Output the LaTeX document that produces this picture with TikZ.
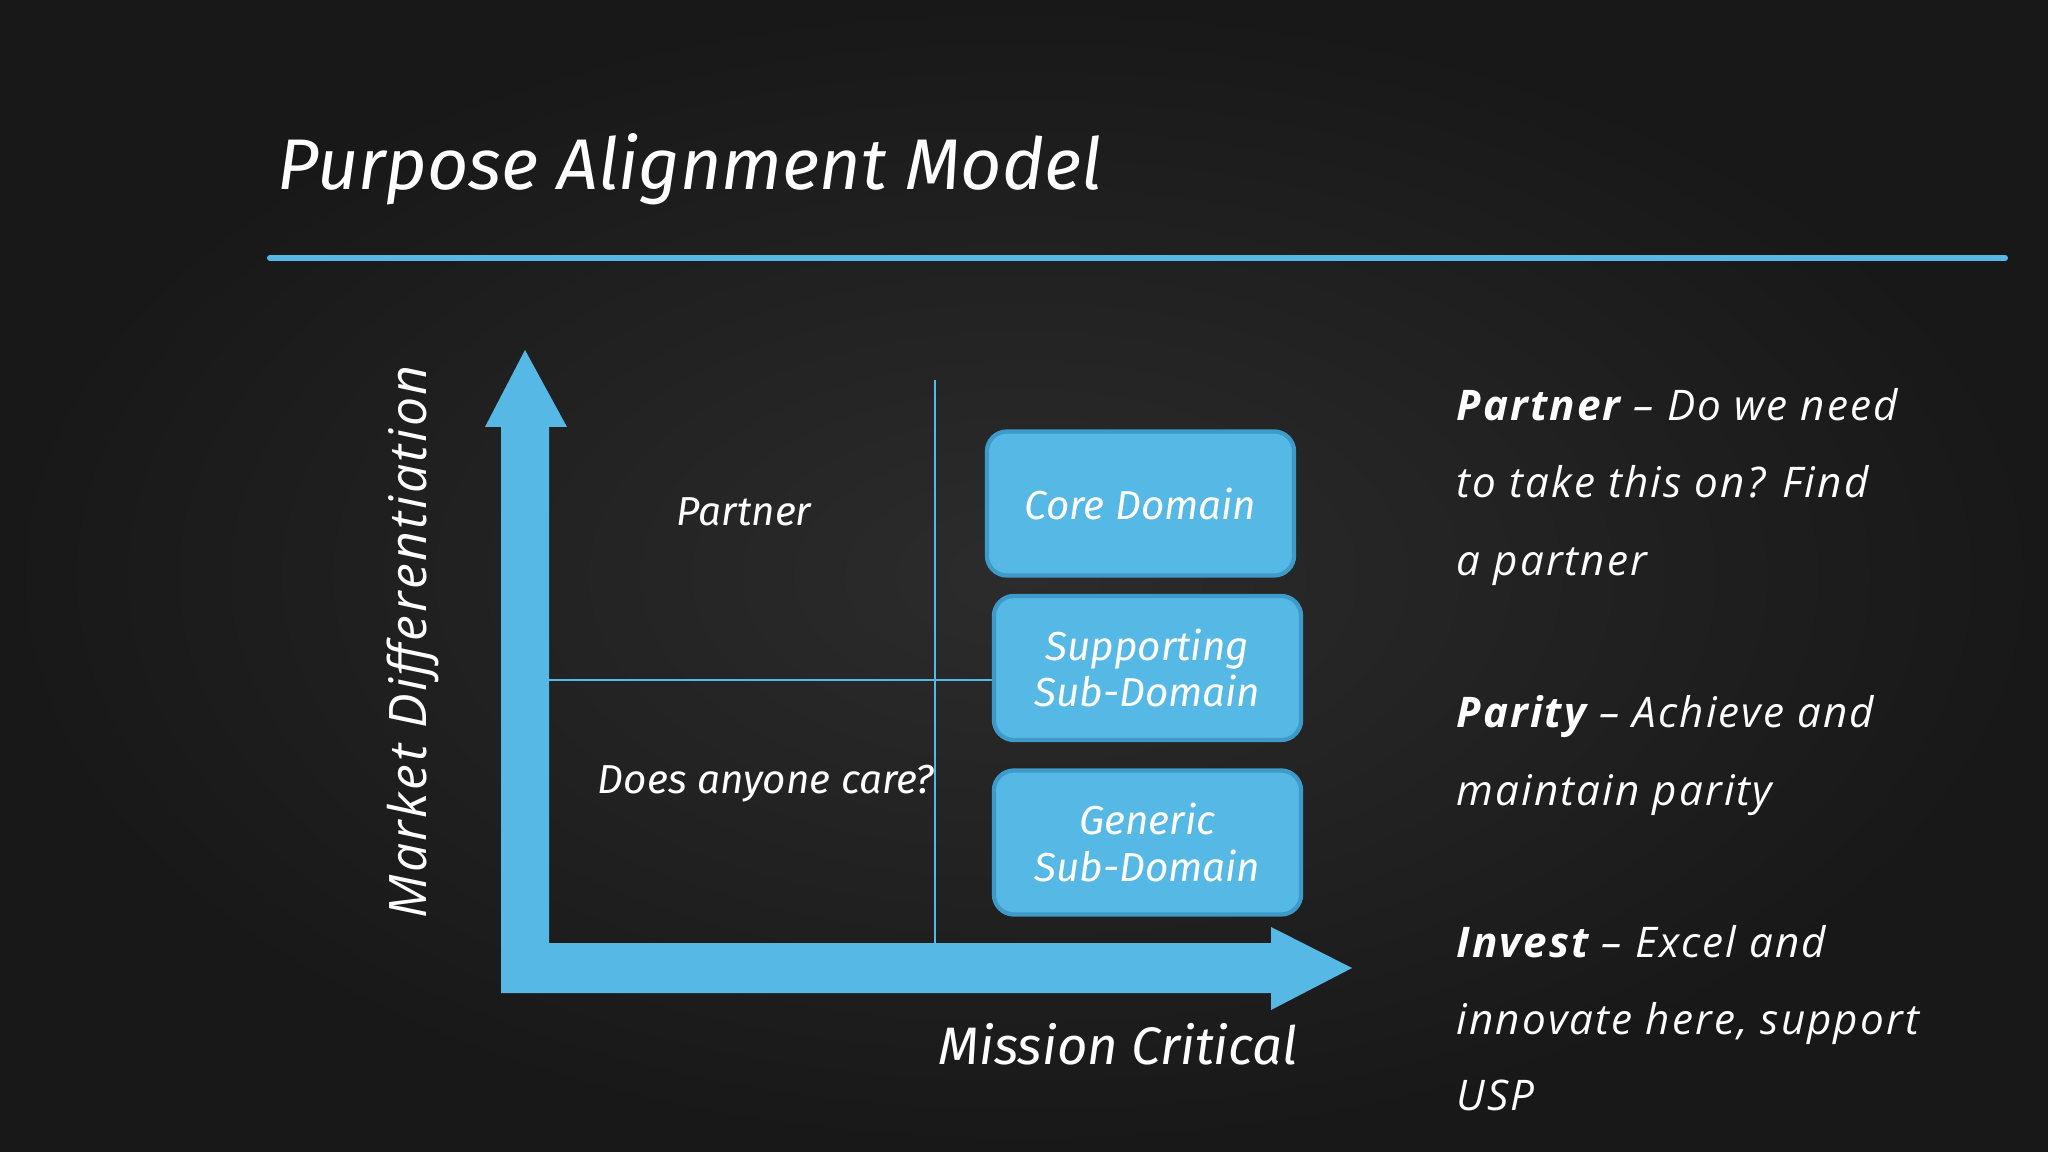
\documentclass[tikz,border=0pt]{standalone}
\usepackage{fontspec}
\setmainfont{Open Sans}
\newfontfamily\handfont{Fira Sans}
\newfontfamily\notefont[LetterSpace=5]{Open Sans}
\definecolor{chalkblue}{HTML}{56B9E5}
\definecolor{boxedge}{HTML}{3E9AC8}
\definecolor{bgin}{HTML}{2C2C2C}
\definecolor{bgout}{HTML}{181818}
\begin{document}
\begin{tikzpicture}[x=0.01cm,y=-0.01cm,
  quadlabel/.style={text=white, inner sep=0pt, font=\handfont\itshape\fontsize{11.5}{13}\selectfont},
  domainbox/.style={draw=boxedge, line width=1.2pt, fill=chalkblue, rounded corners=0.2cm,
     minimum width=3.07cm, minimum height=1.44cm, align=center, text=white,
     font=\handfont\itshape\fontsize{11.5}{13.2}\selectfont},
  note/.style={text=white, anchor=base west, inner sep=0pt, font=\notefont\itshape\fontsize{12}{14}\selectfont},
  divider/.style={draw=chalkblue, line width=0.5pt}]
\useasboundingbox (0,0) rectangle (2048,1152);
\shade[inner color=bgin, outer color=bgout] (0,0) rectangle (2048,1152);
% title
\node[anchor=base west, inner sep=0pt, text=white, font=\handfont\itshape\fontsize{20.4}{24}\selectfont] (title) at (277,190) {Purpose Alignment Model};
\coordinate (ruleL) at (270,258);
\coordinate (ruleR) at (2005,258);
\draw[chalkblue, line width=1.7pt, line cap=round] (ruleL) -- (ruleR);
% dividers
\coordinate (vtop) at (935,380);
\coordinate (vbot) at (935,943);
\coordinate (hl) at (549,680);
\coordinate (hr) at (994,680);
\draw[divider] (vtop) -- (vbot);
\draw[divider] (hl) -- (hr);
% L-shaped axes
\fill[chalkblue] (525,350) -- (567,427) -- (549,427) -- (549,943) -- (1271,943) -- (1271,927)
  -- (1352,968) -- (1271,1010) -- (1271,993) -- (501,993) -- (501,427) -- (485,427) -- cycle;
% boxes
\node[domainbox] (core) at (1140.5,503.5) {Core Domain};
\node[domainbox] (sup) at (1147.5,668) {Supporting\\Sub-Domain};
\node[domainbox] (gen) at (1147.5,842.5) {Generic\\Sub-Domain};
% quadrant labels
\node[quadlabel] (qpartner) at (744,512) {Partner};
\node[quadlabel] (qcare) at (766,784) {Does anyone care?};
% axis labels
\node[anchor=base west, inner sep=0pt, text=white, font=\handfont\itshape\fontsize{15}{18}\selectfont] (xlab) at (938,1064) {Mission Critical};
\node[rotate=90, inner sep=0pt, text=white, font=\notefont\itshape\fontsize{14.7}{18}\selectfont] (ylab) at (413,642) {Market Differentiation};
% notes
\node[note] (r1) at (1456,421) {\textbf{Partner} – Do we need};
\node[note] (r2) at (1456,498) {to take this on? Find};
\node[note] (r3) at (1456,575) {a partner};
\node[note] (r4) at (1456,727) {\textbf{Parity} – Achieve and};
\node[note] (r5) at (1456,805) {maintain parity};
\node[note] (r6) at (1456,957) {\textbf{Invest} – Excel and};
\node[note] (r7) at (1456,1034) {innovate here, support};
\node[note] (r8) at (1456,1110) {USP};
\end{tikzpicture}
\end{document}
